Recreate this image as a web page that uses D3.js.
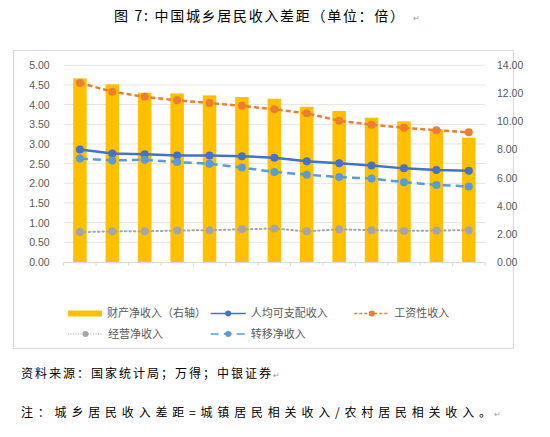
<!DOCTYPE html>
<html>
<head>
<meta charset="utf-8">
<script src="https://cdn.jsdelivr.net/npm/d3@7"></script>
<style>
  body { margin: 0; background: #fff; }
  text { font-family: "Noto Sans CJK SC", "Noto Sans", sans-serif; }
</style>
</head>
<body>
<div id="chart"></div>
<script>
// Values, 13 periods (no x labels shown)
var periods = d3.range(1, 14);
var propertyIncome = [13.07, 12.65, 12.05, 12.00, 11.86, 11.74, 11.62, 11.05, 10.75, 10.27, 10.01, 9.44, 8.85];
var disposableIncome = [2.86, 2.76, 2.74, 2.71, 2.71, 2.69, 2.65, 2.56, 2.51, 2.45, 2.38, 2.34, 2.32];
var wageIncome = [4.55, 4.33, 4.20, 4.11, 4.04, 3.97, 3.88, 3.78, 3.59, 3.49, 3.41, 3.35, 3.30];
var businessIncome = [0.76, 0.78, 0.78, 0.80, 0.81, 0.83, 0.85, 0.78, 0.83, 0.81, 0.79, 0.80, 0.81];
var transferIncome = [2.63, 2.58, 2.60, 2.54, 2.50, 2.40, 2.29, 2.22, 2.16, 2.12, 2.03, 1.96, 1.92];
var leftTicks = [0, 0.5, 1, 1.5, 2, 2.5, 3, 3.5, 4, 4.5, 5];
var rightTicks = [0, 2, 4, 6, 8, 10, 12, 14];

var lineSeries = [
    {name: "人均可支配收入", values: disposableIncome, color: "#4472C4", dash: null, width: 2.5},
    {name: "工资性收入", values: wageIncome, color: "#ED7D31", dash: "5,3", width: 2.5},
    {name: "经营净收入", values: businessIncome, color: "#A5A5A5", dash: "1.5,3", width: 2},
    {name: "转移净收入", values: transferIncome, color: "#5B9BD5", dash: "8,5", width: 2.5}
];

var width = 550, height = 437;
var svg = d3.select("#chart").append("svg")
    .attr("width", width)
    .attr("height", height);

// Title
svg.append("text")
    .attr("x", 114).attr("y", 21)
    .attr("font-size", 14)
    .attr("font-weight", "normal")
    .attr("textLength", 290)
    .attr("fill", "#000")
    .text("图 7: 中国城乡居民收入差距（单位：倍）");
svg.append("text")
    .attr("x", 413).attr("y", 21)
    .attr("font-size", 8).attr("fill", "#999")
    .text("↵");

// Chart frame
svg.append("rect")
    .attr("x", 13.5).attr("y", 50.5)
    .attr("width", 500).attr("height", 298)
    .attr("fill", "#fff")
    .attr("stroke", "#d9d9d9");

var plot = {left: 63.7, right: 485, top: 65.3, bottom: 262};

var x = d3.scaleBand().domain(periods).range([plot.left, plot.right]);
var yLeft = d3.scaleLinear().domain([0, 5]).range([plot.bottom, plot.top]);
var yRight = d3.scaleLinear().domain([0, 14]).range([plot.bottom, plot.top]);

// Gridlines
svg.append("g")
    .selectAll("line")
    .data(leftTicks.slice(1))
    .enter().append("line")
    .attr("x1", plot.left).attr("x2", plot.right)
    .attr("y1", function(d) { return yLeft(d); })
    .attr("y2", function(d) { return yLeft(d); })
    .attr("stroke", "#e3e3e3")
    .attr("stroke-width", 1);

// Left axis
var leftAxis = svg.append("g")
    .attr("transform", "translate(" + plot.left + ",0)")
    .call(d3.axisLeft(yLeft).tickValues(leftTicks).tickFormat(d3.format(".2f")).tickSize(0).tickPadding(14));
leftAxis.select(".domain").remove();
leftAxis.selectAll("text").attr("font-size", 10.5).attr("fill", "#595959")
    .style("font-family", "'Liberation Sans', Arial, sans-serif");

// Right axis
var rightAxis = svg.append("g")
    .attr("transform", "translate(" + plot.right + ",0)")
    .call(d3.axisRight(yRight).tickValues(rightTicks).tickFormat(d3.format(".2f")).tickSize(0).tickPadding(12));
rightAxis.select(".domain").remove();
rightAxis.selectAll("text").attr("font-size", 10.5).attr("fill", "#595959")
    .style("font-family", "'Liberation Sans', Arial, sans-serif");

// Bars (right axis)
var barWidth = 13.5;
svg.append("g")
    .selectAll("rect")
    .data(propertyIncome)
    .enter().append("rect")
    .attr("x", function(d, i) { return x(periods[i]) + x.bandwidth() / 2 - barWidth / 2; })
    .attr("y", function(d) { return yRight(d); })
    .attr("width", barWidth)
    .attr("height", function(d) { return plot.bottom - yRight(d); })
    .attr("fill", "#FFC000");

// Bottom axis with ticks between categories
svg.append("line")
    .attr("x1", plot.left).attr("x2", plot.right)
    .attr("y1", plot.bottom + 0.5).attr("y2", plot.bottom + 0.5)
    .attr("stroke", "#d9d9d9");
svg.append("g")
    .selectAll("line")
    .data(periods.concat([14]))
    .enter().append("line")
    .attr("x1", function(d) { return d === 14 ? plot.right : x(d); })
    .attr("x2", function(d) { return d === 14 ? plot.right : x(d); })
    .attr("y1", plot.bottom).attr("y2", plot.bottom + 4)
    .attr("stroke", "#d9d9d9");

// Lines (left axis)
var line = d3.line()
    .x(function(d, i) { return x(periods[i]) + x.bandwidth() / 2; })
    .y(function(d) { return yLeft(d); });

lineSeries.forEach(function(s) {
    svg.append("path")
        .datum(s.values)
        .attr("fill", "none")
        .attr("stroke", s.color)
        .attr("stroke-width", s.width)
        .attr("stroke-dasharray", s.dash)
        .attr("stroke-linecap", s.dash === "1.5,3" ? "round" : "butt")
        .attr("d", line);
    svg.append("g")
        .selectAll("circle")
        .data(s.values)
        .enter().append("circle")
        .attr("cx", function(d, i) { return x(periods[i]) + x.bandwidth() / 2; })
        .attr("cy", function(d) { return yLeft(d); })
        .attr("r", 4)
        .attr("fill", s.color);
});

// Legend
var legendItems = [
    {name: "财产净收入（右轴）", color: "#FFC000", bar: true, x: 68, y: 313.5},
    {name: lineSeries[0].name, s: lineSeries[0], x: 210.7, y: 313.5},
    {name: lineSeries[1].name, s: lineSeries[1], x: 354.3, y: 313.5},
    {name: lineSeries[2].name, s: lineSeries[2], x: 68, y: 334},
    {name: lineSeries[3].name, s: lineSeries[3], x: 210.7, y: 334}
];
var legend = svg.append("g");
legendItems.forEach(function(item) {
    var g = legend.append("g").attr("transform", "translate(" + item.x + "," + item.y + ")");
    if (item.bar) {
        g.append("rect").attr("x", 0).attr("y", -3).attr("width", 34).attr("height", 6).attr("fill", item.color);
    } else {
        g.append("line").attr("x1", 0).attr("x2", 35).attr("y1", 0).attr("y2", 0)
            .attr("stroke", item.s.color)
            .attr("stroke-width", item.s.width === 2 ? 1.2 : 1.6)
            .attr("stroke-dasharray", item.s.dash === "1.5,3" ? "1,1.5" : (item.s.dash === "5,3" ? "3,2" : item.s.dash));
        g.append("circle").attr("cx", 17.5).attr("cy", 0).attr("r", 3).attr("fill", item.s.color);
    }
    g.append("text")
        .attr("x", item.bar ? 39 : 40)
        .attr("y", 0)
        .attr("dy", "0.35em")
        .attr("font-size", 11)
        .attr("fill", "#595959")
        .text(item.name);
});

// Footnotes
svg.append("text")
    .attr("x", 21).attr("y", 378)
    .attr("font-size", 12)
    .attr("fill", "#000")
    .attr("textLength", 250)
    .text("资料来源：国家统计局；万得；中银证券");
svg.append("text")
    .attr("x", 21).attr("y", 417)
    .attr("font-size", 12)
    .attr("fill", "#000")
    .attr("textLength", 470)
    .text("注：城乡居民收入差距=城镇居民相关收入/农村居民相关收入。");
svg.append("text").attr("x", 273).attr("y", 378).attr("font-size", 8).attr("fill", "#999").text("↵");
svg.append("text").attr("x", 494).attr("y", 417).attr("font-size", 8).attr("fill", "#999").text("↵");
</script>
</body>
</html>
